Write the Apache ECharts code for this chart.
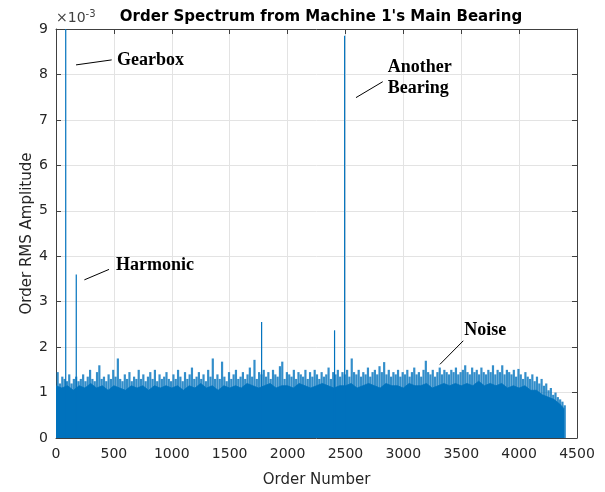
<!DOCTYPE html>
<html>
<head>
<meta charset="utf-8">
<script src="https://cdn.jsdelivr.net/npm/echarts@6/dist/echarts.min.js"></script>
<style>html,body{margin:0;padding:0;background:#fff}#c{width:605px;height:492px}</style>
</head>
<body>
<div id="c"></div>
<script>
// Values in units of 1e-3
var xTicks = [0, 500, 1000, 1500, 2000, 2500, 3000, 3500, 4000, 4500];
var yTicks = [0, 1, 2, 3, 4, 5, 6, 7, 8, 9];

// Solid noise floor, one value every 50 orders from 0 to 4350, then the end point
var floorStep = 50;
var floorValues = [
  1.15,1.1,1.15,1.05,1.15,1.1,1.2,1.1,1.15,1.05,
  1.15,1.1,1.05,1.15,1.1,1.15,1.05,1.15,1.1,1.15,
  1.1,1.15,1.05,1.15,1.1,1.2,1.1,1.15,1.05,1.15,
  1.1,1.15,1.1,1.2,1.15,1.1,1.15,1.2,1.1,1.15,
  1.15,1.1,1.2,1.15,1.1,1.15,1.2,1.15,1.1,1.15,
  1.15,1.2,1.1,1.15,1.2,1.15,1.1,1.2,1.15,1.15,
  1.1,1.2,1.15,1.15,1.2,1.1,1.15,1.2,1.15,1.2,
  1.15,1.2,1.15,1.25,1.15,1.2,1.15,1.2,1.1,1.15,
  1.1,1.15,1.05,1.05,0.95,0.9,0.85,0.75
];
var floorEnd = [4390, 0.64];

// Noise peaks, one value every 20 orders from 0 to 4380
var peakStep = 20;
var peakValues = [
  1.45,1.2,1.35,1.3,1.25,1.4,1.2,1.3,1.35,1.25,
  1.3,1.4,1.25,1.35,1.5,1.3,1.25,1.45,1.6,1.3,
  1.35,1.25,1.4,1.3,1.5,1.35,1.75,1.3,1.25,1.4,
  1.3,1.45,1.25,1.35,1.3,1.5,1.3,1.4,1.25,1.35,
  1.45,1.3,1.5,1.25,1.4,1.3,1.35,1.45,1.3,1.25,
  1.4,1.3,1.5,1.35,1.25,1.45,1.3,1.4,1.55,1.3,
  1.35,1.45,1.3,1.4,1.25,1.5,1.35,1.75,1.3,1.4,
  1.3,1.68,1.35,1.25,1.45,1.3,1.4,1.5,1.3,1.35,
  1.45,1.3,1.4,1.55,1.35,1.72,1.3,1.45,1.4,1.5,
  1.35,1.45,1.3,1.5,1.4,1.35,1.58,1.68,1.3,1.45,
  1.4,1.35,1.5,1.3,1.45,1.4,1.35,1.5,1.3,1.45,
  1.35,1.5,1.4,1.3,1.45,1.35,1.4,1.55,1.3,1.45,
  1.4,1.5,1.35,1.45,1.4,1.5,1.35,1.75,1.45,1.4,
  1.5,1.35,1.45,1.4,1.55,1.35,1.45,1.5,1.4,1.58,
  1.45,1.67,1.4,1.5,1.35,1.45,1.4,1.5,1.35,1.45,
  1.4,1.5,1.35,1.45,1.55,1.4,1.45,1.35,1.5,1.7,
  1.45,1.4,1.5,1.35,1.45,1.55,1.4,1.5,1.45,1.4,
  1.5,1.45,1.55,1.4,1.45,1.5,1.6,1.45,1.4,1.55,
  1.45,1.5,1.4,1.55,1.45,1.4,1.5,1.45,1.6,1.4,
  1.5,1.45,1.6,1.4,1.5,1.45,1.4,1.5,1.35,1.52,
  1.4,1.3,1.45,1.35,1.3,1.4,1.25,1.35,1.2,1.3,
  1.15,1.2,1.05,1.1,0.95,1.0,0.9,0.85,0.8,0.72
];

// Distinct spikes [order, amplitude]
var spikeOrders = [84, 175, 1776, 2406, 2493];
var spikeValues = [9.6, 3.6, 2.55, 2.37, 8.85];

// Annotations: text, text anchor [order, amp], pointer line from -> to
var annotations = [
  {text: 'Gearbox', at: [527, 8.3], from: [173, 8.21], to: [481, 8.32]},
  {text: 'Harmonic', at: [518, 3.8], from: [245, 3.48], to: [458, 3.71]},
  {text: 'Another\nBearing', at: [2865, 7.92], from: [2591, 7.49], to: [2822, 7.84]},
  {text: 'Noise', at: [3527, 2.36], from: [3316, 1.62], to: [3518, 2.14]}
];

var floorData = floorValues.map(function (v, i) { return [i * floorStep, v]; });
floorData.push(floorEnd);
var peakData = peakValues.map(function (v, i) { return [i * peakStep + 10, v]; });
var spikeData = spikeOrders.map(function (o, i) { return [o, spikeValues[i]]; });

var blue = '#0072BD';
var axisColor = '#262626';
var labelFont = '"DejaVu Sans", Arial, sans-serif';
var serifFont = '"Liberation Serif", "Times New Roman", serif';

var chart = echarts.init(document.getElementById('c'), null, {renderer: 'canvas'});

var markLineData = annotations.map(function (a) {
  return [{coord: a.from}, {coord: a.to}];
});
var markPointData = annotations.map(function (a) {
  return {coord: a.at, value: a.text};
});

var common = {
  min: 0, type: 'value', axisLine: {show: true, onZero: false, lineStyle: {color: '#404040', width: 1}},
  axisTick: {show: true, inside: true, length: 5, lineStyle: {color: '#404040'}}
};

chart.setOption({
  animation: false,
  backgroundColor: '#fff',
  title: {
    text: "Order Spectrum from Machine 1's Main Bearing",
    left: 316, top: 5, textAlign: 'center',
    textStyle: {fontFamily: labelFont, fontWeight: 'bold', fontSize: 15, color: '#000'}
  },
  grid: {left: 56, right: 28, top: 29, bottom: 54, containLabel: false, outerBoundsMode: 'none'},
  xAxis: [
    Object.assign({}, common, {
      max: 4500, interval: 500, position: 'bottom',
      name: 'Order Number', nameLocation: 'middle', nameGap: 35, nameMoveOverlap: false,
      nameTextStyle: {fontFamily: labelFont, fontSize: 15, color: axisColor},
      axisLabel: {fontFamily: labelFont, fontSize: 14, color: axisColor, margin: 9,
        formatter: function (v) { return xTicks.indexOf(v) >= 0 ? String(v) : ''; }},
      splitLine: {show: true, lineStyle: {color: '#e3e3e3', width: 1}}
    }),
    Object.assign({}, common, {
      max: 4500, interval: 500, position: 'top',
      axisLabel: {show: false}, splitLine: {show: false}
    })
  ],
  yAxis: [
    Object.assign({}, common, {
      max: 9, interval: 1, position: 'left',
      name: 'Order RMS Amplitude', nameLocation: 'middle', nameGap: 21, nameMoveOverlap: false,
      nameTextStyle: {fontFamily: labelFont, fontSize: 15, color: axisColor},
      axisLabel: {fontFamily: labelFont, fontSize: 14, color: axisColor, margin: 8,
        formatter: function (v) { return yTicks.indexOf(v) >= 0 ? String(v) : ''; }},
      splitLine: {show: true, lineStyle: {color: '#e3e3e3', width: 1}}
    }),
    Object.assign({}, common, {
      max: 9, interval: 1, position: 'right',
      axisLabel: {show: false}, splitLine: {show: false}
    })
  ],
  graphic: [{
    type: 'text', left: 56, top: 9,
    style: {
      text: '{a|×10}{b|-3}',
      rich: {
        a: {fontFamily: labelFont, fontSize: 14, fill: '#404040'},
        b: {fontFamily: labelFont, fontSize: 10, fill: '#404040', verticalAlign: 'top', padding: [0, 0, 8, 0]}
      }
    }
  }],
  series: [
    {
      type: 'line', data: floorData, showSymbol: false, symbol: 'none',
      lineStyle: {color: blue, width: 0.8}, areaStyle: {color: blue, opacity: 1},
      z: 2, silent: true
    },
    {
      type: 'bar', data: peakData, barWidth: 2.2,
      itemStyle: {color: 'rgba(0,114,189,0.8)'}, z: 1, silent: true
    },
    {
      type: 'bar', data: spikeData, barWidth: 1.2, barGap: '-100%',
      itemStyle: {color: blue}, z: 3, silent: true,
      markLine: {
        silent: true, symbol: ['none', 'none'], animation: false,
        lineStyle: {color: '#000', width: 1, type: 'solid'},
        label: {show: false}, data: markLineData
      },
      markPoint: {
        silent: true, symbol: 'rect', symbolSize: 0, animation: false,
        label: {
          show: true, position: 'right', distance: 0,
          fontFamily: serifFont, fontWeight: 'bold', fontSize: 18, color: '#000', lineHeight: 21,
          formatter: function (p) { return p.value; }
        },
        data: markPointData
      }
    }
  ]
});
</script>
</body>
</html>
